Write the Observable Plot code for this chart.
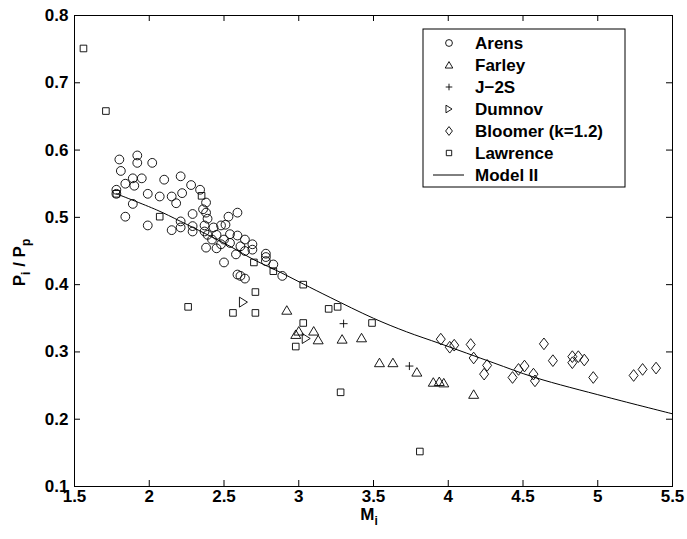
<!DOCTYPE html>
<html><head><meta charset="utf-8">
<script src="https://cdn.jsdelivr.net/npm/d3@7"></script>
<script src="https://cdn.jsdelivr.net/npm/@observablehq/plot@0.6"></script>
<style>body{margin:0;background:#fff} svg{display:block}</style>
</head><body><div id="chart"></div><script>
// ---- data (Mi, Pi/Pp) ----
const arens = [
 [1.78,0.541],[1.78,0.535],[1.80,0.586],[1.81,0.569],[1.84,0.550],[1.84,0.501],[1.89,0.558],[1.89,0.520],
 [1.90,0.547],[1.92,0.592],[1.92,0.581],[1.95,0.558],[1.99,0.535],[1.99,0.488],[2.02,0.581],[2.07,0.531],
 [2.10,0.556],[2.15,0.531],[2.15,0.481],[2.18,0.521],[2.21,0.561],[2.22,0.536],[2.21,0.494],[2.21,0.485],
 [2.28,0.548],[2.34,0.541],[2.38,0.522],[2.36,0.512],[2.38,0.507],[2.29,0.505],[2.39,0.498],[2.53,0.501],
 [2.59,0.507],[2.29,0.487],[2.29,0.479],[2.37,0.488],[2.37,0.479],[2.43,0.485],[2.48,0.488],[2.51,0.489],
 [2.39,0.474],[2.45,0.474],[2.42,0.467],[2.50,0.467],[2.54,0.475],[2.59,0.473],[2.64,0.467],[2.38,0.455],
 [2.45,0.454],[2.48,0.460],[2.54,0.462],[2.61,0.457],[2.69,0.460],[2.69,0.452],[2.58,0.445],[2.64,0.450],
 [2.78,0.446],[2.78,0.441],[2.78,0.435],[2.83,0.430],[2.50,0.433],[2.59,0.415],[2.61,0.413],[2.64,0.409],
 [2.89,0.413]
];
const farley = [
 [2.92,0.362],[2.98,0.326],[3.00,0.331],[3.10,0.331],[3.13,0.318],[3.29,0.319],[3.42,0.321],
 [3.54,0.284],[3.63,0.284],[3.79,0.270],[3.90,0.255],[3.94,0.256],[3.97,0.254],[4.17,0.237]
];
const j2s = [[3.30,0.342],[3.74,0.279]];
const dumnov = [[2.63,0.374],[3.05,0.320]];
const bloomer = [
 [3.95,0.319],[4.01,0.307],[4.04,0.310],[4.15,0.311],[4.17,0.291],[4.26,0.280],[4.24,0.267],[4.43,0.262],
 [4.47,0.274],[4.51,0.279],[4.57,0.267],[4.58,0.257],[4.64,0.312],[4.70,0.287],[4.83,0.293],[4.83,0.284],
 [4.87,0.293],[4.91,0.288],[4.97,0.262],[5.24,0.265],[5.30,0.274],[5.39,0.276]
];
const lawrence = [
 [1.56,0.751],[1.71,0.658],[1.78,0.535],[2.07,0.501],[2.35,0.532],[2.26,0.367],[2.56,0.358],[2.71,0.358],
 [2.71,0.389],[2.70,0.433],[2.83,0.420],[3.03,0.400],[3.20,0.364],[3.26,0.367],[3.03,0.343],[3.49,0.343],
 [2.98,0.308],[3.28,0.240],[3.81,0.152]
];
const modelII = [
 [1.78,0.535],[2.05,0.511],[2.21,0.494],[2.54,0.457],[2.70,0.437],[2.88,0.418],[3.03,0.401],[3.21,0.381],
 [3.50,0.350],[3.72,0.330],[3.95,0.312],[4.30,0.284],[4.58,0.262],[5.06,0.233],[5.50,0.208]
];
const xTicks = [1.5,2,2.5,3,3.5,4,4.5,5,5.5];
const yTicks = [0.1,0.2,0.3,0.4,0.5,0.6,0.7,0.8];
const legendLabels = ["Arens","Farley","J\u22122S","Dumnov","Bloomer (k=1.2)","Lawrence","Model II"];

// ---- custom MATLAB-like symbols (h recovered from Plot's r) ----
const H = s => Math.sqrt(s/Math.PI);
const symTri = {draw(c,s){const h=H(s);c.moveTo(0,-0.9*h);c.lineTo(h,0.8*h);c.lineTo(-h,0.8*h);c.closePath();}};
const symRight = {draw(c,s){const h=H(s);c.moveTo(-0.8*h,-h);c.lineTo(0.8*h,0);c.lineTo(-0.8*h,h);c.closePath();}};
const symDiamond = {draw(c,s){const h=H(s);c.moveTo(0,-1.3*h);c.lineTo(h,0);c.lineTo(0,1.3*h);c.lineTo(-h,0);c.closePath();}};
const symPlus = {draw(c,s){const h=H(s);c.moveTo(-h,0);c.lineTo(h,0);c.moveTo(0,-h);c.lineTo(0,h);}};
const symSquare = {draw(c,s){const h=H(s);c.rect(-h,-h,2*h,2*h);}};
const symCircle = {draw(c,s){const h=H(s);c.moveTo(h,0);c.arc(0,0,h,0,2*Math.PI);}};

const font = "'Liberation Sans', Arial, Helvetica, sans-serif";
const W = 687, Ht = 539, mL = 74, mR = 15, mT = 15, mB = 53;
const pw = W - mL - mR, ph = Ht - mT - mB, tk = 6;
const dotOpts = (sym, r) => ({x: d => d[0], y: d => d[1], symbol: sym, r, fill: "none", stroke: "#000", strokeWidth: 0.9});

const chart = Plot.plot({
  width: W, height: Ht, marginLeft: mL, marginRight: mR, marginTop: mT, marginBottom: mB,
  style: {fontFamily: font, fontSize: "17px", fontWeight: "bold", color: "#000", background: "#fff"},
  x: {domain: [1.5, 5.5]},
  y: {domain: [0.1, 0.8]},
  marks: [
    Plot.tickX(xTicks, {x: d => d, insetTop: ph - tk, stroke: "#000"}),
    Plot.tickX(xTicks, {x: d => d, insetBottom: ph - tk, stroke: "#000"}),
    Plot.tickY(yTicks, {y: d => d, insetRight: pw - tk, stroke: "#000"}),
    Plot.tickY(yTicks, {y: d => d, insetLeft: pw - tk, stroke: "#000"}),
    Plot.axisX({ticks: xTicks, tickSize: 0, tickPadding: 3, label: null, tickFormat: d => String(d), fontWeight: "bold", fontSize: 17, fill: "#000"}),
    Plot.axisY({ticks: yTicks, tickSize: 0, tickPadding: 6, label: null, tickFormat: d => String(d), fontWeight: "bold", fontSize: 17, fill: "#000"}),
    Plot.line(modelII, {x: d => d[0], y: d => d[1], stroke: "#000", strokeWidth: 1, curve: "catmull-rom"}),
    Plot.dot(arens, dotOpts(symCircle, 4.4)),
    Plot.dot(farley, dotOpts(symTri, 5)),
    Plot.dot(j2s, dotOpts(symPlus, 4)),
    Plot.dot(dumnov, dotOpts(symRight, 5)),
    Plot.dot(bloomer, dotOpts(symDiamond, 4.5)),
    Plot.dot(lawrence, dotOpts(symSquare, 3.3)),
    Plot.frame({stroke: "#000", strokeWidth: 1})
  ]
});
document.getElementById("chart").appendChild(chart);

// ---- axis labels with subscripts ----
const svg = d3.select(chart);
const xl = svg.append("text").attr("x", mL + pw/2 - 4).attr("y", 520).attr("text-anchor", "middle")
  .attr("font-family", font).attr("font-weight", "bold").attr("font-size", 17).attr("fill", "#000");
xl.append("tspan").text("M");
xl.append("tspan").attr("font-size", 12).attr("dy", 5).text("i");

const yl = svg.append("text").attr("transform", `translate(25,${mT + ph/2 + 12}) rotate(-90)`).attr("text-anchor", "middle")
  .attr("font-family", font).attr("font-weight", "bold").attr("font-size", 17).attr("fill", "#000");
yl.append("tspan").text("P");
yl.append("tspan").attr("font-size", 12).attr("dy", 5).text("i");
yl.append("tspan").attr("dy", -5).text(" / P");
yl.append("tspan").attr("font-size", 12).attr("dy", 5).text("p");

// ---- legend ----
const lg = svg.append("g").attr("transform", "translate(423,29)");
lg.append("rect").attr("width", 202).attr("height", 158).attr("fill", "#fff").attr("stroke", "#000").attr("stroke-width", 1);
const legSyms = [[symCircle,3.4],[symTri,3.8],[symPlus,3.3],[symRight,3.8],[symDiamond,3.4],[symSquare,2.7],null];
legendLabels.forEach((lab, i) => {
  const cy = 14 + i * 22;
  const s = legSyms[i];
  if (s) {
    lg.append("path").attr("transform", `translate(26,${cy})`)
      .attr("d", d3.symbol().type(s[0]).size(Math.PI * s[1] * s[1])())
      .attr("fill", "none").attr("stroke", "#000").attr("stroke-width", 0.9);
  } else {
    lg.append("line").attr("x1", 10).attr("x2", 41).attr("y1", cy).attr("y2", cy).attr("stroke", "#000").attr("stroke-width", 1);
  }
  lg.append("text").attr("x", 52).attr("y", cy).attr("dy", "0.36em").attr("text-anchor", "start").attr("font-family", font)
    .attr("font-weight", "bold").attr("font-size", 17).attr("fill", "#000").text(lab);
});
</script></body></html>
